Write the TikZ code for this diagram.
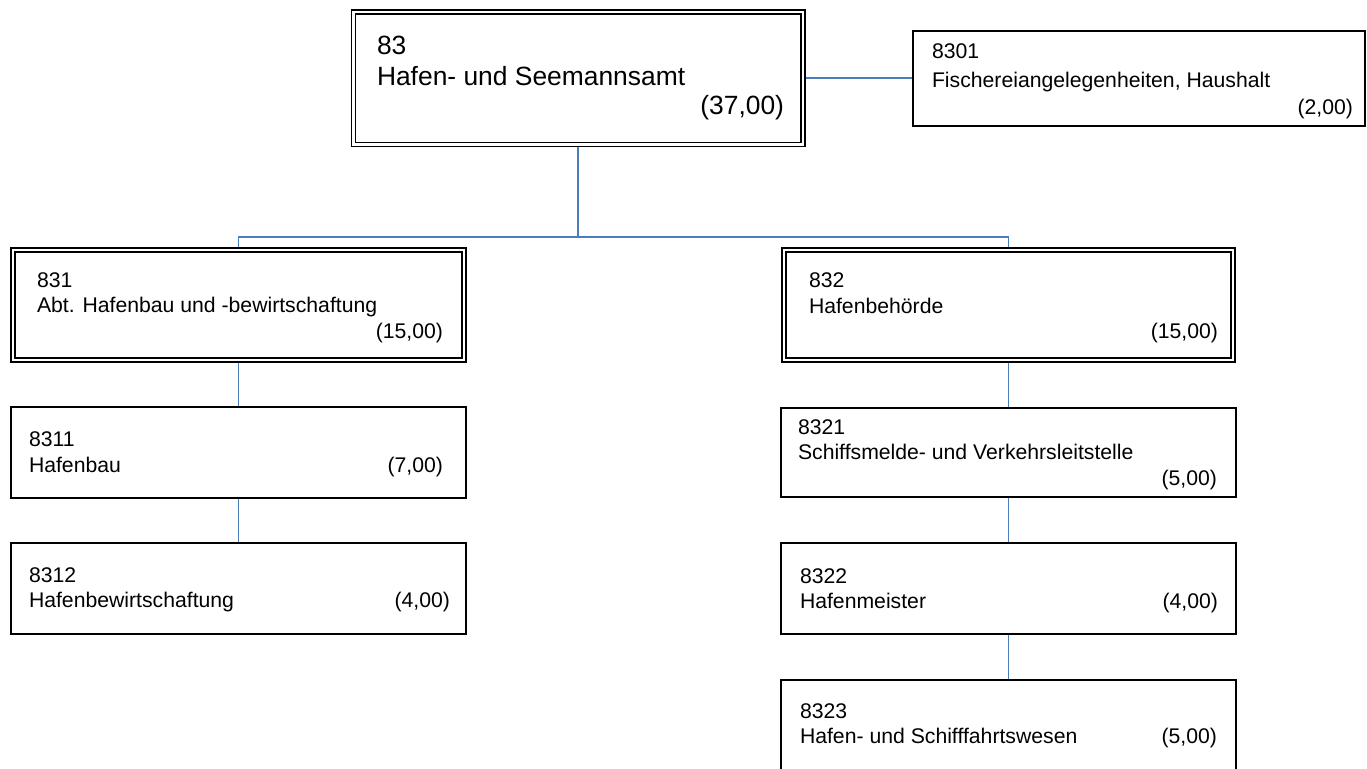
\documentclass[tikz,border=0pt]{standalone}
\usepackage{fontspec}
\setmainfont{Liberation Sans}
\definecolor{connblue}{RGB}{74,126,187}
\tikzset{
  box/.style={draw=black, line width=1.7pt, rectangle, inner sep=0pt, fill=white},
  dbox/.style={draw=black, line width=1.4pt, double=white, double distance=2.5pt, rectangle, inner sep=0pt, outer sep=2.6pt},
  conn/.style={draw=connblue, line width=1.8pt},
  sm/.style={inner sep=0pt, outer sep=0pt, font=\fontsize{21.2}{24}\selectfont},
  lg/.style={inner sep=0pt, outer sep=0pt, font=\fontsize{26.4}{30}\selectfont},
}
\begin{document}
\begin{tikzpicture}[x=1pt,y=-1pt]
\useasboundingbox (0,0) rectangle (1367,768);
\clip (0,0) rectangle (1367,768);
% boxes
\node[dbox, minimum width=449.5pt, minimum height=132.5pt] (b83) at (578.25,78.25) {};
\node[box, minimum width=452pt, minimum height=95pt] (b8301) at (1139,78.25) {};
\node[dbox, minimum width=451pt, minimum height=110pt] (b831) at (238.5,305) {};
\node[dbox, minimum width=449pt, minimum height=110pt] (b832) at (1008.5,305) {};
\node[box, minimum width=455pt, minimum height=91pt] (b8311) at (238.5,452.5) {};
\node[box, minimum width=455pt, minimum height=91pt] (b8312) at (238.5,588.5) {};
\node[box, minimum width=455pt, minimum height=89pt] (b8321) at (1008.5,452.5) {};
\node[box, minimum width=455pt, minimum height=91pt] (b8322) at (1008.5,588.5) {};
\node[box, minimum width=455pt, minimum height=110pt] (b8323) at (1008.5,735) {};
% connectors
\coordinate (split) at (578.25,237);
\draw[conn] (b83.south) -- (split);
\draw[conn] (split) -| (b831.north);
\draw[conn] (split) -| (b832.north);
\draw[conn] (b83.east) -- (b8301.west);
\draw[conn] (b831.south) -- (b8311.north);
\draw[conn] (b8311.south) -- (b8312.north);
\draw[conn] (b832.south) -- (b8321.north);
\draw[conn] (b8321.south) -- (b8322.north);
\draw[conn] (b8322.south) -- (b8323.north);
% texts: 83
\node[lg, anchor=base west] (t83a) at (377,55) {83};
\node[lg, anchor=base west] (t83b) at (377,85.5) {Hafen- und Seemannsamt};
\node[lg, anchor=base east] (t83c) at (784,114.5) {(37,00)};
% 8301
\node[sm, anchor=base west] (t8301a) at (932,59) {8301};
\node[sm, anchor=base west] (t8301b) at (932,87) {Fischereiangelegenheiten, Haushalt};
\node[sm, anchor=base east] (t8301c) at (1353,114) {(2,00)};
% 831
\node[sm, anchor=base west] (t831a) at (37,287) {831};
\node[sm, anchor=base west] (t831b) at (37,312) {Abt. Hafenbau und -bewirtschaftung};
\node[sm, anchor=base east] (t831c) at (443,338) {(15,00)};
% 832
\node[sm, anchor=base west] (t832a) at (809,287) {832};
\node[sm, anchor=base west] (t832b) at (809,313) {Hafenbehörde};
\node[sm, anchor=base east] (t832c) at (1218,338) {(15,00)};
% 8311
\node[sm, anchor=base west] (t8311a) at (29,446) {8311};
\node[sm, anchor=base west] (t8311b) at (29,472) {Hafenbau};
\node[sm, anchor=base east] (t8311c) at (443,472) {(7,00)};
% 8312
\node[sm, anchor=base west] (t8312a) at (29,582) {8312};
\node[sm, anchor=base west] (t8312b) at (29,607) {Hafenbewirtschaftung};
\node[sm, anchor=base east] (t8312c) at (450,607) {(4,00)};
% 8321
\node[sm, anchor=base west] (t8321a) at (798,434.5) {8321};
\node[sm, anchor=base west] (t8321b) at (798,459) {Schiffsmelde- und Verkehrsleitstelle};
\node[sm, anchor=base east] (t8321c) at (1217,485.5) {(5,00)};
% 8322
\node[sm, anchor=base west] (t8322a) at (800,583) {8322};
\node[sm, anchor=base west] (t8322b) at (800,608) {Hafenmeister};
\node[sm, anchor=base east] (t8322c) at (1218,608) {(4,00)};
% 8323
\node[sm, anchor=base west] (t8323a) at (800,718) {8323};
\node[sm, anchor=base west] (t8323b) at (800,743) {Hafen- und Schifffahrtswesen};
\node[sm, anchor=base east] (t8323c) at (1217,743) {(5,00)};
\end{tikzpicture}
\end{document}
